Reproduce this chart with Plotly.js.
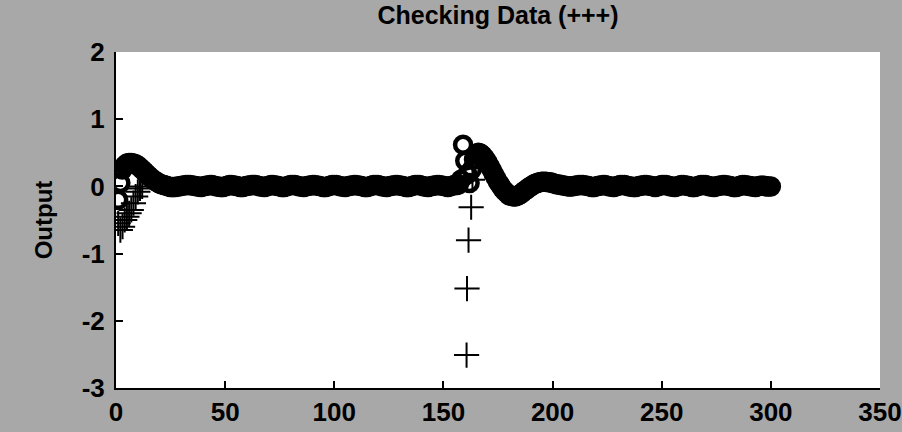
<!DOCTYPE html>
<html>
<head>
<meta charset="utf-8">
<script src="https://cdn.plot.ly/plotly-3.0.1.min.js"></script>
<style>html,body{margin:0;padding:0;background:#a8a8a8;}#chart{width:902px;height:432px;}</style>
</head>
<body>
<div id="chart"></div>
<script>
// FIS output (circles), sample index 1..300
const outputY = [
 -0.20, 0.05, 0.25, 0.31, 0.34, 0.35, 0.35, 0.34, 0.33, 0.31,
 0.28, 0.25, 0.22, 0.19, 0.16, 0.13, 0.10, 0.08, 0.06, 0.04,
 0.03, 0.02, 0.01, 0.00, -0.01, -0.01, -0.01, 0.00, 0.00, 0.01,
 0.01, 0.02, 0.02, 0.02, 0.01, 0.01, 0.00, 0.00, -0.01, 0.00,
 0.01, 0.01, 0.02, 0.02, 0.01, 0.00, 0.00, -0.01, -0.01, 0.00,
 0.01, 0.02, 0.02, 0.01, 0.01, 0.00, -0.01, -0.01, 0.00, 0.01,
 0.01, 0.02, 0.02, 0.02, 0.01, 0.00, 0.00, -0.01, 0.00, 0.01,
 0.02, 0.02, 0.01, 0.01, 0.00, -0.01, -0.01, 0.00, 0.01, 0.02,
 0.02, 0.02, 0.01, 0.00, 0.00, -0.01, 0.00, 0.01, 0.01, 0.02,
 0.02, 0.01, 0.01, 0.00, -0.01, -0.01, 0.00, 0.01, 0.02, 0.02,
 0.02, 0.01, 0.00, 0.00, -0.01, 0.00, 0.01, 0.01, 0.02, 0.02,
 0.01, 0.01, 0.00, -0.01, -0.01, 0.00, 0.01, 0.02, 0.02, 0.02,
 0.01, 0.00, 0.00, -0.01, 0.00, 0.01, 0.01, 0.02, 0.02, 0.01,
 0.01, 0.00, -0.01, -0.01, 0.00, 0.01, 0.02, 0.02, 0.02, 0.01,
 0.00, 0.00, -0.01, 0.00, 0.01, 0.01, 0.02, 0.02, 0.01, 0.01,
 0.00, -0.01, 0.00, 0.01, 0.02, 0.02, 0.03, 0.10, 0.62, 0.38,
 0.18, 0.05, 0.25, 0.40, 0.47, 0.50, 0.49, 0.46, 0.42, 0.37,
 0.31, 0.25, 0.19, 0.13, 0.07, 0.02, -0.03, -0.07, -0.10, -0.13,
 -0.14, -0.15, -0.15, -0.14, -0.12, -0.10, -0.07, -0.05, -0.02, 0.00,
 0.02, 0.04, 0.05, 0.06, 0.07, 0.07, 0.07, 0.06, 0.06, 0.05,
 0.04, 0.03, 0.03, 0.02, 0.01, 0.01, 0.00, 0.00, 0.00, 0.01,
 0.01, 0.02, 0.02, 0.02, 0.01, 0.01, 0.00, -0.01, -0.01, 0.00,
 0.01, 0.01, 0.02, 0.02, 0.01, 0.00, 0.00, -0.01, 0.00, 0.01,
 0.02, 0.02, 0.02, 0.01, 0.00, 0.00, -0.01, -0.01, 0.00, 0.01,
 0.01, 0.02, 0.02, 0.01, 0.01, 0.00, -0.01, 0.00, 0.01, 0.02,
 0.02, 0.02, 0.01, 0.00, 0.00, -0.01, 0.00, 0.01, 0.02, 0.02,
 0.01, 0.01, 0.00, -0.01, -0.01, 0.00, 0.01, 0.02, 0.02, 0.02,
 0.01, 0.00, 0.00, -0.01, 0.00, 0.01, 0.01, 0.02, 0.02, 0.01,
 0.01, 0.00, -0.01, -0.01, 0.00, 0.01, 0.02, 0.02, 0.01, 0.01,
 0.00, 0.00, -0.01, 0.00, 0.01, 0.01, 0.01, 0.00, 0.00, 0.00
];
const outputX = outputY.map((_, i) => i + 1); // sample index

// Checking data (plus markers) where visible
const checkX = [1, 2, 3, 4, 5, 6, 7, 8, 9, 10, 11, 12, 160.6, 160.8, 161.5, 162.7, 163.3];
const checkY = [-0.55, -0.65, -0.60, -0.50, -0.45, -0.40, -0.35, -0.25, -0.15, -0.08, -0.03, 0.00, -2.51, -1.52, -0.80, -0.31, 0.10];

const xTicks = [0, 50, 100, 150, 200, 250, 300, 350];
const yTicks = [-3, -2, -1, 0, 1, 2];
const titleText = 'Checking Data (+++)';
const yTitle = 'Output';

const fam = 'Liberation Sans, Arial, Helvetica, sans-serif';

const traces = [
  {
    x: checkX, y: checkY, type: 'scatter', mode: 'markers',
    marker: {symbol: 'cross-thin-open', size: 18, color: '#000', line: {color: '#000', width: 2}},
    hoverinfo: 'skip'
  },
  {
    x: outputX, y: outputY, type: 'scatter', mode: 'markers',
    marker: {symbol: 'circle-open', size: 16, color: '#000', line: {color: '#000', width: 4.5}},
    hoverinfo: 'skip'
  }
];

const axisCommon = {
  showline: true, linecolor: '#000', linewidth: 2, mirror: false,
  ticks: 'inside', ticklen: 7, tickwidth: 2, tickcolor: '#000',
  showgrid: false, zeroline: false,
  tickfont: {family: fam, size: 26, color: '#000', weight: 'bold'}
};

const layout = {
  width: 902, height: 432,
  margin: {l: 116, r: 22, t: 52, b: 44, pad: 0},
  paper_bgcolor: '#a8a8a8',
  plot_bgcolor: '#ffffff',
  showlegend: false,
  title: {
    text: titleText,
    font: {family: fam, size: 25, color: '#000', weight: 'bold'},
    x: 0.5, xref: 'paper', y: 0.965, yref: 'container', yanchor: 'middle'
  },
  xaxis: Object.assign({}, axisCommon, {range: [0, 350], tickvals: xTicks, ticktext: xTicks.map(String)}),
  yaxis: Object.assign({}, axisCommon, {
    range: [-3, 2], tickvals: yTicks, ticktext: yTicks.map(String), ticklabelstandoff: 4,
    title: {text: yTitle, font: {family: fam, size: 24, color: '#000', weight: 'bold'}, standoff: 22}
  })
};

Plotly.newPlot('chart', traces, layout, {staticPlot: true, displayModeBar: false});
</script>
</body>
</html>
